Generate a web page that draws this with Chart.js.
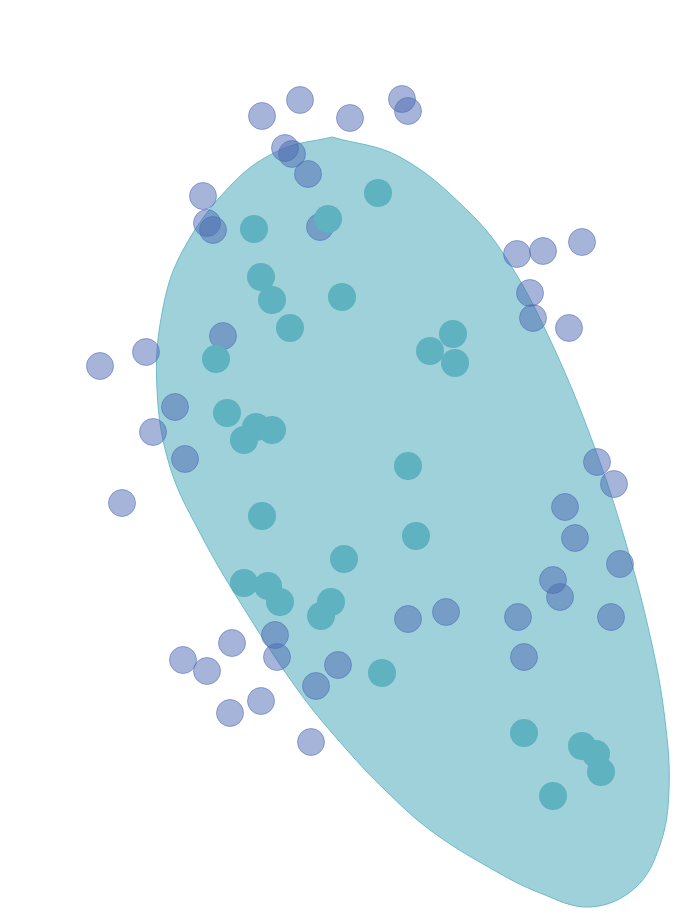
<!DOCTYPE html>
<html>
<head>
<meta charset="utf-8">
<script src="https://cdn.jsdelivr.net/npm/chart.js@4/dist/chart.umd.min.js"></script>
<style>
html,body{margin:0;padding:0;background:#fff;}
#wrap{width:697px;height:924px;position:relative;}
</style>
</head>
<body>
<div id="wrap"><canvas id="c"></canvas></div>
<script>
// Values (plot units, y grows downward)
const groupAX = [262,300,350,402,408,285,292,308,203,207,213,320,517,543,582,530,533,569,100,146,223,175,153,185,122,597,614,565,575,620,553,560,518,611,524,408,446,232,183,207,275,277,261,230,311,316,338];
const groupAY = [116,100,118,99,111,148,154,174,196,223,230,227,254,251,242,293,318,328,366,352,336,407,432,459,503,462,484,507,538,564,580,597,617,617,657,619,612,643,660,671,635,657,701,713,742,686,665];
const groupBX = [254,328,378,261,272,290,342,216,430,453,455,227,256,272,244,408,262,416,344,244,268,280,331,321,382,524,582,596,601,553];
const groupBY = [229,219,193,277,300,328,297,359,351,334,363,413,427,430,440,466,516,536,559,583,586,602,602,616,673,733,746,754,772,796];
// outline of the shaded region, read clockwise from its top
const hullX = [332,400,470,510,553,593,625,651,665,669,660,635,590,540,490,430,385,347,300,243,200,170,157,162,183,233,280,332];
const hullY = [137,157,213,264,346,443,540,640,720,790,845,888,907,893,868,830,790,750,693,607,533,467,390,313,250,183,150,137];

const toPts = (xs, ys) => xs.map((x, i) => ({x: x, y: ys[i]}));

new Chart(document.getElementById('c'), {
  type: 'scatter',
  data: {
    datasets: [
      {
        label: 'B',
        data: toPts(groupBX, groupBY),
        backgroundColor: '#5fb2c0',
        borderColor: '#5fb2c0',
        borderWidth: 0,
        pointRadius: 14,
        pointHoverRadius: 14,
        order: 0
      },
      {
        label: 'A',
        data: toPts(groupAX, groupAY),
        backgroundColor: 'rgba(75,105,177,0.5)',
        borderColor: 'rgba(80,110,190,0.55)',
        borderWidth: 1,
        pointRadius: 13.5,
        pointHoverRadius: 13.5,
        order: 1
      },
      {
        type: 'line',
        label: 'hull',
        data: toPts(hullX, hullY),
        fill: 'shape',
        tension: 0.38,
        backgroundColor: 'rgba(90,175,192,0.58)',
        borderColor: 'rgba(100,182,198,0.9)',
        borderWidth: 1,
        pointRadius: 0,
        pointHoverRadius: 0,
        order: 2
      }
    ]
  },
  options: {
    responsive: true,
    maintainAspectRatio: false,
    animation: false,
    layout: {padding: 0, autoPadding: false},
    plugins: {legend: {display: false}, tooltip: {enabled: false}},
    scales: {
      x: {type: 'linear', min: 0, max: 697, display: false},
      y: {type: 'linear', min: 0, max: 924, reverse: true, display: false}
    }
  }
});
</script>
</body>
</html>
